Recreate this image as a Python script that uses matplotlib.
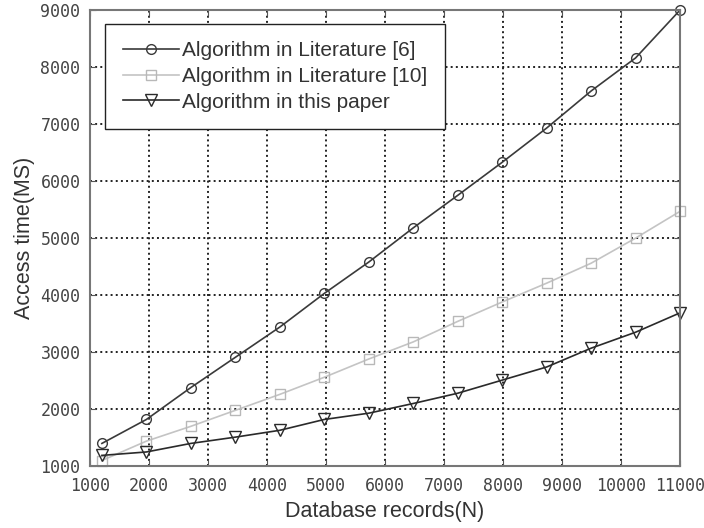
import matplotlib
matplotlib.use("Agg")
import matplotlib.pyplot as plt

# Database records (N)
records = [1200, 1954, 2708, 3462, 4215, 4969, 5723, 6477, 7231, 7985, 8738, 9492, 10246, 11000]

# Access time (MS) for each algorithm
lit6 = [1400, 1820, 2380, 2910, 3440, 4030, 4580, 5180, 5750, 6330, 6930, 7580, 8160, 9000]
lit10 = [1100, 1440, 1700, 1980, 2260, 2560, 2880, 3180, 3540, 3880, 4210, 4560, 5000, 5470]
ours = [1190, 1250, 1400, 1510, 1630, 1820, 1930, 2100, 2280, 2510, 2740, 3070, 3350, 3690]

labels = ["Algorithm in Literature [6]",
          "Algorithm in Literature [10]",
          "Algorithm in this paper"]


def main():
    fig = plt.figure(figsize=(7.04, 5.28), dpi=100)
    ax = fig.add_axes([0.128, 0.117, 0.838, 0.864])

    ax.plot(records, lit6, color="#3a3a3a", lw=1.2, marker="o", ms=7,
            mfc="none", mec="#3a3a3a", mew=1.0, label=labels[0], clip_on=False)
    ax.plot(records, lit10, color="#c4c4c4", lw=1.2, marker="s", ms=7,
            mfc="none", mec="#b8b8b8", mew=1.0, label=labels[1], clip_on=False)
    ax.plot(records, ours, color="#2a2a2a", lw=1.2, marker="v", ms=8,
            mfc="none", mec="#2a2a2a", mew=1.0, label=labels[2], clip_on=False)

    ax.set_xlim(1000, 11000)
    ax.set_ylim(1000, 9000)
    ax.set_xticks(range(1000, 11001, 1000))
    ax.set_yticks(range(1000, 9001, 1000))

    tick_font = {"family": "DejaVu Sans Mono", "size": 12}
    ax.set_xticklabels([str(v) for v in range(1000, 11001, 1000)], **tick_font, color="#444444")
    ax.set_yticklabels([str(v) for v in range(1000, 9001, 1000)], **tick_font, color="#444444")

    ax.tick_params(direction="in", top=True, right=True, length=4,
                   color="#555555")
    ax.tick_params(axis="x", pad=8)
    ax.tick_params(axis="y", pad=7)
    ax.grid(True, ls=":", color="#222222", lw=1.4)

    for sp in ax.spines.values():
        sp.set_color("#777777")
        sp.set_linewidth(1.5)

    ax.set_xlabel("Database records(N)", family="Liberation Sans", size=15.5,
                  color="#333333", labelpad=4)
    ax.set_ylabel("Access time(MS)", family="Liberation Sans", size=15.5,
                  color="#333333", labelpad=4)

    leg = ax.legend(loc="upper left", bbox_to_anchor=(0.025, 0.97),
                    prop={"family": "Liberation Sans", "size": 15},
                    fancybox=False, framealpha=1, edgecolor="#222222",
                    handlelength=2.7, handletextpad=0.15, borderpad=0.85,
                    labelspacing=0.32, borderaxespad=0)
    leg.get_frame().set_linewidth(1.0)
    for t in leg.get_texts():
        t.set_color("#333333")

    fig.savefig("out.png", dpi=100)
    plt.close(fig)


if __name__ == "__main__":
    main()
